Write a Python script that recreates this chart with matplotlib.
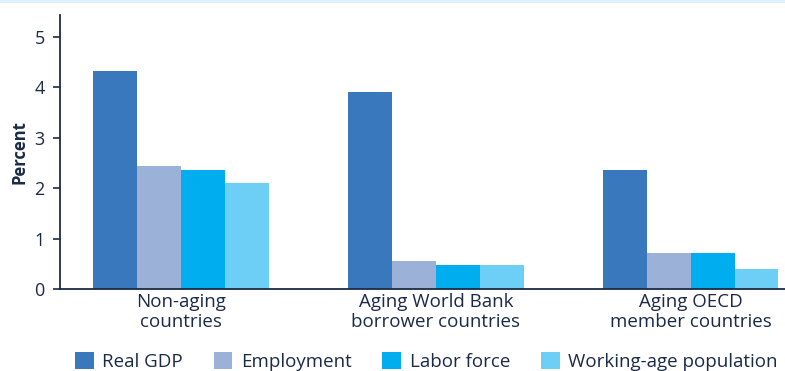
import matplotlib
matplotlib.use("Agg")
import matplotlib.pyplot as plt
import numpy as np
from matplotlib.patches import Patch

categories = ["Non-aging\ncountries", "Aging World Bank\nborrower countries", "Aging OECD\nmember countries"]
series_names = ["Real GDP", "Employment", "Labor force", "Working-age population"]
real_gdp = [4.33, 3.91, 2.37]
employment = [2.45, 0.56, 0.72]
labor_force = [2.37, 0.48, 0.72]
working_age = [2.11, 0.48, 0.40]
colors = ["#3a78bd", "#9bb1d8", "#00aeef", "#6dcff6"]
yticks = [0, 1, 2, 3, 4, 5]

text_color = "#1b2a47"
plt.rcParams["font.family"] = ["Open Sans", "DejaVu Sans"]

fig = plt.figure(figsize=(7.85, 3.71), dpi=100)
ax = fig.add_axes([0.0764, 0.2202, 0.9236, 0.7394])

x = np.arange(len(categories))
width = 0.172
values = [real_gdp, employment, labor_force, working_age]
for i, (vals, col) in enumerate(zip(values, colors)):
    ax.bar(x + (i - 1.5) * width, vals, width, color=col, linewidth=0, zorder=2)

ax.set_xlim(-0.475, 2.37)
ax.set_ylim(0, 5.43)
ax.set_yticks(yticks)
ax.set_yticklabels([str(t) for t in yticks], fontsize=13, color=text_color)
ax.set_xticks(x)
ax.set_xticklabels(categories, fontsize=13.5, color=text_color, linespacing=1.12)
ax.tick_params(axis="x", length=0, pad=3)
ax.tick_params(axis="y", length=5, width=1.2, color=text_color, pad=6, direction="out")

for side in ["top", "right"]:
    ax.spines[side].set_visible(False)
for side in ["left", "bottom"]:
    ax.spines[side].set_color(text_color)
    ax.spines[side].set_linewidth(1.3)
ax.spines["bottom"].set_zorder(3)

ax.set_ylabel("Percent", fontsize=12, fontweight="bold", color=text_color, labelpad=4)

handles = [Patch(facecolor=c, edgecolor="none") for c in colors]
fig.legend(handles, series_names, loc="lower center", bbox_to_anchor=(0.543, -0.045),
           ncol=4, frameon=False, fontsize=13.5, labelcolor=text_color,
           handlelength=1.0, handleheight=1.0, handletextpad=0.45, columnspacing=1.65)

# thin accent line along the top edge
fig.add_artist(plt.Line2D([0, 1], [0.996, 0.996], transform=fig.transFigure,
                          color="#dcf1fb", linewidth=2))

fig.savefig("out.png", dpi=100)
